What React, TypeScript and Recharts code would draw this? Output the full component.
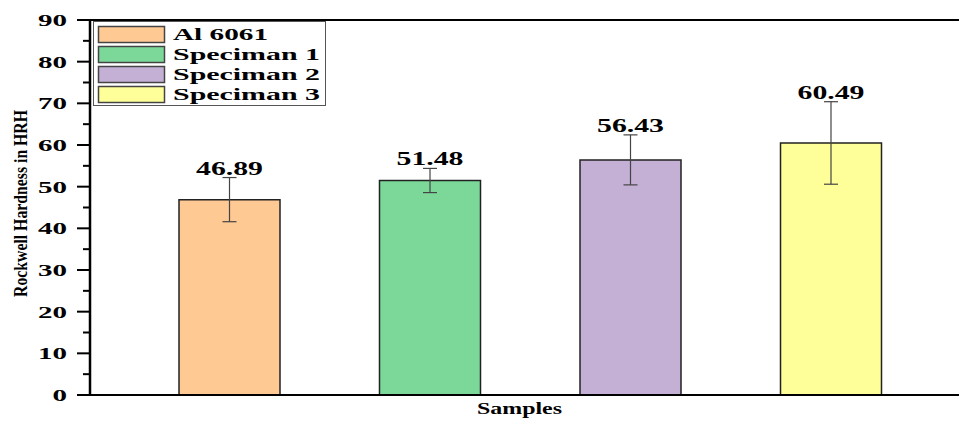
import React from "react";
import {
  BarChart,
  Bar,
  Cell,
  XAxis,
  YAxis,
  ErrorBar,
  LabelList,
  Legend,
  ReferenceLine,
} from "recharts";

const samples = ["Al 6061", "Speciman 1", "Speciman 2", "Speciman 3"];
const hardness = [46.89, 51.48, 56.43, 60.49];
const errors = [5.3, 2.9, 6.0, 9.9];
const colors = ["#FFC994", "#7BD899", "#C4B0D4", "#FFFF99"];
const yTicks = [0, 5, 10, 15, 20, 25, 30, 35, 40, 45, 50, 55, 60, 65, 70, 75, 80, 85, 90];

const data = samples.map((name, i) => ({
  name,
  value: hardness[i],
  err: errors[i],
}));

const FONT = "'Liberation Serif', 'Times New Roman', serif";
const TICK_SIZE = 13;
const TICK_MARGIN = 10;

function YTick(props: any) {
  const { x, y, payload } = props;
  const v = payload.value as number;
  const major = v % 10 === 0;
  const axisX = x + TICK_SIZE + TICK_MARGIN;
  const label = String(v);
  return (
    <g>
      <line
        x1={axisX - (major ? TICK_SIZE : 7)}
        x2={axisX}
        y1={y}
        y2={y}
        stroke="#000"
        strokeWidth={2}
      />
      {major && (
        <text
          x={x}
          y={y}
          dy={6}
          textAnchor="end"
          fontFamily={FONT}
          fontWeight="bold"
          fontSize={17}
          textLength={label.length * 14.5}
          lengthAdjust="spacingAndGlyphs"
          fill="#000"
        >
          {label}
        </text>
      )}
    </g>
  );
}

function ValueLabel(props: any) {
  const { x, y, width, height, value, index } = props;
  const errPx = (height / value) * errors[index];
  return (
    <text
      x={x + width / 2}
      y={y - errPx - 3}
      textAnchor="middle"
      fontFamily={FONT}
      fontWeight="bold"
      fontSize={18}
      textLength={67}
      lengthAdjust="spacingAndGlyphs"
      fill="#000"
    >
      {value.toFixed(2)}
    </text>
  );
}

function YLabel(props: any) {
  const { viewBox } = props;
  const cx = viewBox.x + 20;
  const cy = viewBox.y + viewBox.height / 2 - 4;
  return (
    <text
      x={cx}
      y={cy}
      transform={`rotate(-90 ${cx} ${cy})`}
      textAnchor="middle"
      dominantBaseline="central"
      fontFamily={FONT}
      fontWeight="bold"
      fontSize={19}
      textLength={187}
      lengthAdjust="spacingAndGlyphs"
      fill="#000"
    >
      Rockwell Hardness in HRH
    </text>
  );
}

function XLabel(props: any) {
  const { viewBox } = props;
  return (
    <text
      x={viewBox.x + viewBox.width / 2 - 5}
      y={414}
      textAnchor="middle"
      fontFamily={FONT}
      fontWeight="bold"
      fontSize={17}
      textLength={85}
      lengthAdjust="spacingAndGlyphs"
      fill="#000"
    >
      Samples
    </text>
  );
}

function LegendBox() {
  return (
    <svg width={233} height={85} style={{ display: "block" }}>
      <rect x={0.5} y={0.5} width={232} height={84} fill="#fff" stroke="#555" />
      {samples.map((s, i) => (
        <g key={s}>
          <rect
            x={5.5}
            y={5.5 + i * 20}
            width={66}
            height={16}
            fill={colors[i]}
            stroke="#444"
            strokeWidth={1.5}
          />
          <text
            x={80}
            y={19 + i * 20}
            fontFamily={FONT}
            fontWeight="bold"
            fontSize={17}
            textLength={s.length === 7 ? 95 : 147}
            lengthAdjust="spacingAndGlyphs"
            fill="#000"
          >
            {s}
          </text>
        </g>
      ))}
    </svg>
  );
}

export default function App() {
  return (
    <div
      style={{
        position: "absolute",
        left: 0,
        top: 0,
        width: 959,
        height: 421,
        background: "#fff",
      }}
    >
      <BarChart
        width={959}
        height={421}
        data={data}
        margin={{ top: 20, right: 0, bottom: 0, left: 0 }}
        barSize={101}
      >
        <XAxis
          dataKey="name"
          tick={false}
          tickLine={false}
          axisLine={{ stroke: "#000", strokeWidth: 2 }}
          height={26}
          padding={{ left: 39, right: 28 }}
          label={<XLabel />}
        />
        <YAxis
          domain={[0, 90]}
          ticks={yTicks}
          interval={0}
          width={90}
          tickSize={TICK_SIZE}
          tickMargin={TICK_MARGIN}
          tickLine={false}
          tick={<YTick />}
          axisLine={{ stroke: "#000", strokeWidth: 2.5 }}
          label={<YLabel />}
        />
        <ReferenceLine y={90} stroke="#000" strokeWidth={2} />
        <Legend
          layout="vertical"
          align="center"
          verticalAlign="middle"
          wrapperStyle={{ left: 93, top: 21, width: 233 }}
          content={() => <LegendBox />}
        />
        <Bar
          dataKey="value"
          stroke="#222"
          strokeWidth={1.5}
          isAnimationActive={false}
        >
          {data.map((d, i) => (
            <Cell key={d.name} fill={colors[i]} />
          ))}
          <ErrorBar
            dataKey="err"
            width={7}
            stroke="#444"
            strokeWidth={1.2}
            direction="y"
          />
          <LabelList dataKey="value" content={<ValueLabel />} />
        </Bar>
      </BarChart>
    </div>
  );
}
